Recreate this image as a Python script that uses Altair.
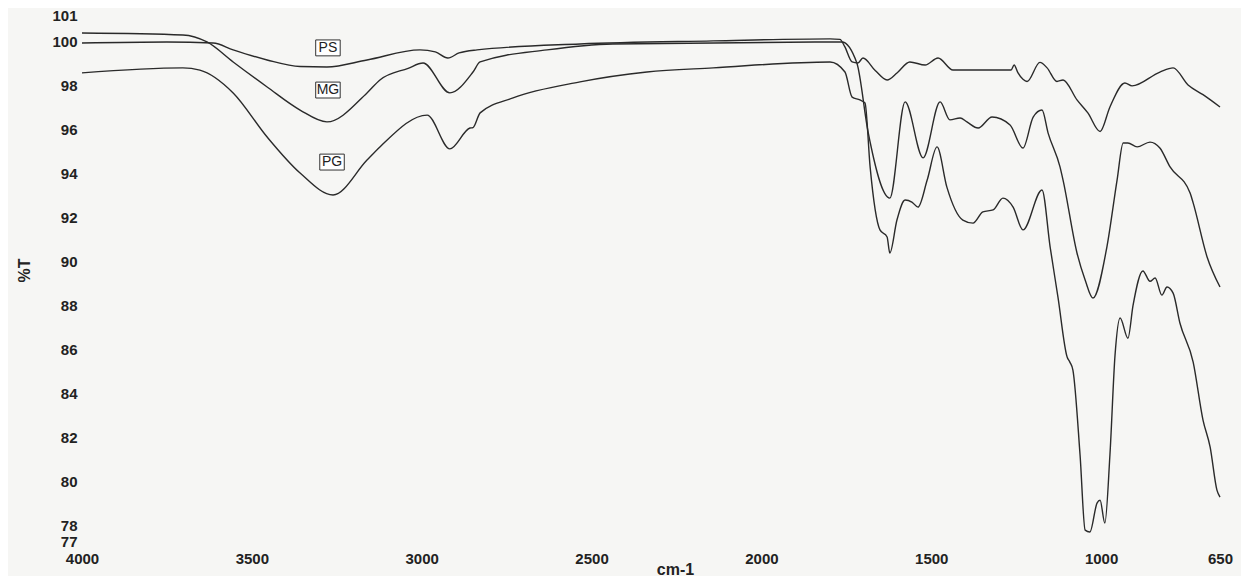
import altair as alt
import pandas as pd

# ---- data (wavenumber cm-1, %T) ----
ps_wn = [4000, 3750, 3614, 3555, 3455, 3358, 3279, 3161, 3005, 2960, 2923, 2890, 2837, 2534, 2142,
         1798, 1769, 1755, 1733, 1716, 1701, 1665, 1630, 1600, 1563, 1518, 1480, 1436, 1415, 1265,
         1256, 1245, 1230, 1218, 1180, 1159, 1130, 1112, 1071, 1039, 1003, 974, 930, 909, 827,
         788, 744, 700, 650]
ps_t = [99.95, 100.0, 99.95, 99.64, 99.18, 98.88, 98.86, 99.18, 99.64, 99.55, 99.27, 99.5, 99.64, 99.91, 100.05,
        100.14, 100.12, 99.8, 99.09, 99.04, 99.27, 98.7, 98.27, 98.6, 99.09, 98.95, 99.27, 98.72, 98.72, 98.72,
        98.95, 98.6, 98.3, 98.2, 99.07, 98.82, 98.2, 98.27, 97.36, 96.77, 95.92, 97.04, 98.13, 98.0, 98.63,
        98.82, 98.04, 97.6, 97.04]

mg_wn = [4000, 3703, 3632, 3555, 3455, 3358, 3279, 3161, 3123, 3040, 2996, 2917, 2849, 2828, 2631,
         2437, 1798, 1763, 1719, 1686, 1622, 1577, 1524, 1474, 1445, 1415, 1395, 1362, 1321, 1268,
         1230, 1200, 1174, 1156, 1121, 1112, 1071, 1047, 1024, 983, 953, 935, 921, 894, 856,
         827, 797, 738, 729, 688, 650]
mg_t = [100.41, 100.32, 100.0, 99.09, 97.95, 96.9, 96.36, 97.68, 98.27, 98.8, 99.04, 97.68, 98.63, 99.09, 99.64,
        99.91, 100.0, 100.0, 99.04, 95.9, 92.89, 97.27, 94.72, 97.27, 96.45, 96.54, 96.36, 96.08, 96.58, 96.22,
        95.17, 96.58, 96.9, 95.85, 94.31, 93.71, 90.39, 89.16, 88.34, 90.66, 93.71, 95.4, 95.4, 95.22, 95.44,
        95.17, 94.31, 93.12, 92.67, 90.21, 88.84]

pg_wn = [4000, 3703, 3653, 3555, 3455, 3358, 3261, 3161, 3123, 2984, 2917, 2858, 2849, 2828, 2731,
         2534, 2337, 2142, 1798, 1754, 1733, 1710, 1695, 1680, 1651, 1630, 1622, 1601, 1577, 1557,
         1539, 1512, 1483, 1454, 1407, 1377, 1348, 1318, 1289, 1259, 1230, 1174, 1150, 1127, 1100,
         1092, 1083, 1062, 1047, 1033, 1012, 1003, 989, 974, 959, 944, 921, 906, 877, 856,
         841, 821, 806, 788, 768, 729, 700, 679, 659, 650]
pg_t = [98.59, 98.82, 98.72, 97.68, 95.67, 94.03, 93.03, 94.62, 95.22, 96.67, 95.13, 96.08, 96.1, 96.77, 97.45,
        98.18, 98.63, 98.82, 99.09, 98.63, 97.49, 97.36, 97.22, 94.31, 91.44, 91.12, 90.39, 91.89, 92.8, 92.71,
        92.48, 93.71, 95.22, 93.39, 91.89, 91.75, 92.26, 92.35, 92.89, 92.48, 91.44, 93.26, 90.66, 88.38, 85.65,
        85.42, 85.06, 81.2, 77.77, 77.68, 79.0, 79.13, 78.09, 81.2, 85.74, 87.43, 86.51, 88.0, 89.57, 89.1,
        89.25, 88.47, 88.84, 88.56, 87.2, 85.42, 82.78, 81.55, 79.59, 79.27]

label_names = ["PS", "MG", "PG"]
label_wn = [3276, 3276, 3264]
label_t = [99.73, 97.81, 94.53]

x_ticks = [4000, 3500, 3000, 2500, 2000, 1500, 1000, 650]
y_ticks = [77, 78, 80, 82, 84, 86, 88, 90, 92, 94, 96, 98, 100, 101]

rows = []
for name, wn, t in (("PS", ps_wn, ps_t), ("MG", mg_wn, mg_t), ("PG", pg_wn, pg_t)):
    for i, (a, b) in enumerate(zip(wn, t)):
        rows.append({"series": name, "i": i, "wn": a, "T": b})
df = pd.DataFrame(rows)
lab = pd.DataFrame({"name": label_names, "wn": label_wn, "T": label_t})

FONT = "Liberation Sans"

x_scale = alt.Scale(domain=[4000, 650], nice=False, zero=False)
y_scale = alt.Scale(domain=[77, 101], nice=False, zero=False)

x_axis = alt.Axis(values=x_ticks, format="d", title="cm-1", grid=False, domain=False, ticks=False,
                  labelFont=FONT, labelFontSize=15, labelFontWeight="bold", labelColor="#222",
                  labelPadding=4, labelFlush=False, labelOverlap=False,
                  titleFont=FONT, titleFontSize=16, titleFontWeight="bold", titleColor="#222",
                  titleX=593, titleY=22, titleBaseline="middle", titleAnchor="start", titleAlign="center")
y_axis = alt.Axis(values=y_ticks, format="d", title="%T", grid=False, domain=False, ticks=False,
                  labelFont=FONT, labelFontSize=15, labelFontWeight="bold", labelColor="#222",
                  labelPadding=5, labelFlush=False, labelOverlap=False,
                  labelOffset=alt.ExprRef(expr="datum.value == 77 ? -6 : datum.value == 101 ? -5 : 0"),
                  titleFont=FONT, titleFontSize=16, titleFontWeight="bold", titleColor="#222",
                  titleAngle=270, titleX=-58, titleY=250, titleBaseline="middle", titleAlign="center")

lines = alt.Chart(df).mark_line(color="#2a2a2a", strokeWidth=1.4, interpolate="monotone").encode(
    x=alt.X("wn:Q", scale=x_scale, axis=x_axis),
    y=alt.Y("T:Q", scale=y_scale, axis=y_axis),
    detail="series:N",
    order="i:Q",
)

boxes = alt.Chart(lab).mark_point(
    shape="M-1,-0.65L1,-0.65L1,0.65L-1,0.65Z", size=600, filled=True,
    fill="white", stroke="#333", strokeWidth=1, opacity=1
).encode(x=alt.X("wn:Q", scale=x_scale), y=alt.Y("T:Q", scale=y_scale))

texts = alt.Chart(lab).mark_text(font=FONT, fontSize=14, color="#222", baseline="middle",
                                 align="center").encode(
    x=alt.X("wn:Q", scale=x_scale), y=alt.Y("T:Q", scale=y_scale), text="name:N")

chart = alt.layer(lines, boxes, texts).properties(
    width=1138, height=527,
    autosize=alt.AutoSizeParams(type="none"),
    padding={"left": 74, "top": 12, "right": 21, "bottom": 29},
    background="#f6f6f4",
).configure_view(stroke=None)

chart.save("out.html", embed_options={"renderer": "svg", "actions": False})
